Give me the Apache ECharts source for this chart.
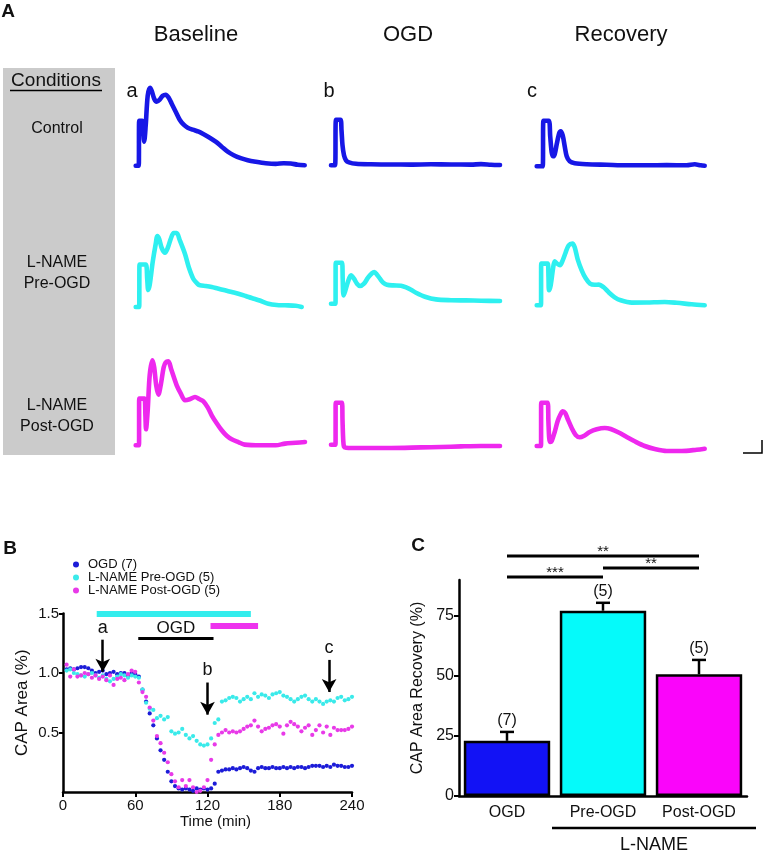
<!DOCTYPE html>
<html>
<head>
<meta charset="utf-8">
<script src="https://cdn.jsdelivr.net/npm/echarts@6.0.0/dist/echarts.min.js"></script>
<style>html,body{margin:0;padding:0;background:#fff;}#main{width:767px;height:853px;}</style>
</head>
<body>
<div id="main"></div>
<script>
// ---------------- Panel A: CAP traces (x: time units, y: amplitude units above baseline) ----------------
const ctrlBase = [[0,0],[3,0],[3.5,45],[6.5,45],[7.5,35],[8.5,24],[10,40],[12,70],[14.3,78],[16,75],[18.5,67],[21,64],[24,66],[27,70],[30,71],[33,68],[36,62],[40,54],[44,46],[48,41],[52,38],[57,36],[63,34],[68,31.5],[74,28],[80,24],[86,19],[92,14],[98,10.5],[105,7.5],[112,5.5],[120,4],[130,2.5],[140,1.8],[148,2.5],[155,2.2],[162,1],[169,0.5]];
const ctrlOgd = [[0,0],[4,0],[5,45.5],[9.5,45.5],[10.5,35],[11.5,20],[13,10],[15,5],[18,3],[25,1.5],[40,1],[60,0.8],[80,0.7],[100,1],[120,0.8],[140,0.7],[150,1.2],[160,0.6],[169,0.3]];
const ctrlRec = [[0,0],[6,0],[6.7,45.5],[12,45.5],[13.5,30],[15,14],[16.5,10],[18,12],[20,22],[22.5,33],[24,35],[26,31],[28,20],[30,10],[33,5],[38,3],[50,2],[70,1.5],[90,1],[110,1],[130,1.2],[150,1],[158,2],[164,1],[168,0.5]];
const preBase = [[0,0],[3.5,0],[3.8,42.5],[10,42.5],[11.5,28],[12.5,17],[14,22],[17,45],[20,63],[21.7,71],[23.5,68],[26,59],[29.3,54.3],[32,59],[35,68],[38,74],[41,74],[44,67],[49.3,53],[53,40],[57.7,28],[62,23],[64.3,21.7],[70,21],[76,20],[82,18.5],[89.3,16.7],[96,15],[102.7,13.3],[110,11],[116,9],[124,6.5],[132.7,3.3],[141,2],[149.3,1.7],[160,1.2],[166,0]];
const preOgd = [[0,0],[4.5,0],[4.7,41],[11,41],[11.7,25],[12.5,8.3],[14,12],[17,22],[20,28.3],[23,25],[26,20],[29,17.7],[33,20],[37,26],[41,30.5],[43.3,31.7],[46,29],[49,25],[52.3,21],[56,19],[62,18.3],[70,18],[75.7,16],[80,14],[85,11],[94,7],[105,4.3],[120,3.5],[135,3.3],[150,3],[169,2.7]];
const preRec = [[0,0],[4.3,0],[4.5,41.7],[11,41.7],[11.8,28],[12.3,15],[14,20],[16.5,38],[18,44],[20,42],[23.3,40],[26,45],[29,53],[32,60],[35.7,61.7],[38,58],[41,46],[45,35],[49,27],[53.3,21.7],[58,20.5],[62,20.7],[67,18],[72,13],[78,8],[84,5],[95,2.7],[110,2.8],[128,3.3],[140,2.5],[155,1],[168,0]];
const postBase = [[0,0],[3.3,0],[3.5,46.7],[8.7,46.7],[9.7,30],[10.3,16],[12,35],[14,70],[16.7,85],[18.5,78],[20.5,60],[22.7,50.7],[25,60],[28,78],[30,83],[32.7,84],[35.5,76],[41,60],[45,52],[49.3,45],[54,46],[59.3,48.3],[64,46],[67.7,44],[72,38],[76,30],[81,22],[86,15],[91,9.5],[96,6],[103,3],[109,0.7],[125,0],[140,0],[149.3,1.7],[160,2.5],[169.3,3.3]];
const postOgd = [[0,0],[4.5,0],[4.7,42],[11,42],[11.5,25],[12.2,5],[13,-2],[15,-3],[30,-3.3],[60,-3.3],[90,-2.7],[110,-2.3],[130,-1.7],[150,-1.3],[169,-1.3]];
const postRec = [[0,0],[4.3,0],[4.5,43.3],[11,43.3],[11.7,25],[12.5,8],[13.5,4],[15,5],[18,14],[21,25],[24,32],[26,34.7],[28.5,33],[31,27],[35,18],[39,11],[43,8.7],[47,10],[53,14],[60,16.7],[68,18],[74,17],[82,13.5],[90,9],[98,4.7],[108,0],[118,-3],[130,-5],[145,-5],[160,-3.7],[168,-2.7]];

const conditionRows = ['Control', 'L-NAME\nPre-OGD', 'L-NAME\nPost-OGD'];
const phaseTitles = ['Baseline', 'OGD', 'Recovery'];
const phaseLetters = ['a', 'b', 'c'];

// ---------------- Panel B: CAP area time course ----------------
const timeMin = [3,6,9,12,15,18,21,24,27,30,33,36,39,42,45,48,51,54,57,60,
  63,66,69,72,75,78,81,84,87,90,93,96,99,102,105,108,111,114,117,120,
  123,126,129,132,135,138,141,144,147,150,153,156,159,162,165,168,171,174,177,180,
  183,186,189,192,195,198,201,204,207,210,213,216,219,222,225,228,231,234,237,240];
const ogdVals = [1.03,1.04,1.03,1.04,1.05,1.05,1.04,1.02,1.00,1.01,1.02,0.99,1.00,1.01,0.99,1.00,1.00,0.98,1.00,0.99,
  0.97,0.86,0.76,0.66,0.56,0.45,0.35,0.27,0.17,0.09,0.05,0.03,0.02,0.03,0.02,0.01,0.03,0.02,0.03,0.02,
  0.03,0.07,0.17,0.18,0.19,0.19,0.20,0.19,0.20,0.21,0.20,0.18,0.17,0.20,0.21,0.20,0.20,0.21,0.20,0.20,
  0.21,0.20,0.21,0.20,0.21,0.21,0.20,0.21,0.22,0.22,0.22,0.21,0.22,0.21,0.23,0.22,0.22,0.21,0.21,0.22];
const preVals = [1.02,1.03,1.00,0.99,0.98,0.97,0.99,1.00,0.98,0.96,0.98,0.95,0.93,0.95,0.97,0.99,0.98,0.96,0.98,0.97,
  0.96,0.86,0.75,0.70,0.69,0.62,0.64,0.61,0.63,0.51,0.49,0.50,0.53,0.48,0.45,0.47,0.43,0.40,0.39,0.40,
  0.45,0.58,0.61,0.76,0.77,0.79,0.80,0.79,0.76,0.78,0.80,0.78,0.83,0.80,0.82,0.81,0.79,0.82,0.83,0.84,
  0.81,0.80,0.78,0.76,0.78,0.80,0.81,0.78,0.76,0.78,0.76,0.74,0.76,0.77,0.76,0.79,0.80,0.77,0.78,0.80];
const postVals = [1.07,0.97,1.03,0.97,0.98,1.00,0.99,0.96,0.98,0.95,0.97,0.94,0.98,0.90,0.95,0.96,0.94,0.99,1.02,1.01,
  0.92,0.84,0.80,0.71,0.60,0.47,0.41,0.33,0.25,0.15,0.09,0.04,0.10,0.05,0.10,0.04,0.00,0.01,0.04,0.10,
  0.27,0.40,0.48,0.50,0.52,0.50,0.51,0.50,0.51,0.53,0.55,0.56,0.60,0.55,0.51,0.53,0.54,0.56,0.57,0.55,
  0.49,0.56,0.59,0.57,0.55,0.51,0.54,0.56,0.48,0.52,0.56,0.50,0.55,0.48,0.54,0.52,0.52,0.52,0.53,0.55];
const seriesNamesB = ['OGD (7)', 'L-NAME Pre-OGD (5)', 'L-NAME Post-OGD (5)'];
const xTicksB = [0, 60, 120, 180, 240];
const yTicksB = [0.5, 1.0, 1.5];
// treatment periods [start, end, level] in min / CAP area units
const preTreat = [28, 156, 1.5];
const postTreat = [122.5, 162, 1.40];
const ogdPeriod = [62.5, 125, 1.29];
// sample arrows: [time, top, tip]
const arrowSpans = [[33, 1.28, 1.01], [120, 0.92, 0.65], [221, 1.11, 0.84]];

// ---------------- Panel C: recovery bars ----------------
const barCats = ['OGD', 'Pre-OGD', 'Post-OGD'];
const barMeans = [23.0, 77.2, 50.7];
const barSem = [3.7, 3.3, 6.0];
const barN = ['(7)', '(5)', '(5)'];
const yTicksC = [0, 25, 50, 75];
// significance brackets: [fromIndex, toIndex, height]
const sigRows = [[0, 2, 100], [1, 2, 95], [0, 1, 91.3]];
const sigText = ['**', '**', '***'];

// ---------------- styling / layout ----------------
const FONT = "'Liberation Sans', Arial, Helvetica, sans-serif";
const INK = '#111';
const traceColors = ['#1717e6', '#2ef0f0', '#ee28ee'];
const dotColors = ['#1c1cd8', '#3aeaea', '#e83ae8'];
const barColors = ['#1212f5', '#05fafa', '#fa05fa'];
const colLeft = [135.7, 331, 536.7];
const rowBase = [[165.7, 165.3, 166.3], [307, 303.7, 305.3], [445.3, 444.7, 446]];
const traces = [[ctrlBase, ctrlOgd, ctrlRec], [preBase, preOgd, preRec], [postBase, postOgd, postRec]];

const grids = [], xAxes = [], yAxes = [], series = [];
traces.forEach((row, r) => row.forEach((tr, c) => {
  const idx = grids.length;
  grids.push({left: colLeft[c], top: rowBase[r][c] - 90, width: 170, height: 100});
  xAxes.push({gridIndex: idx, type: 'value', min: 0, max: 170, show: false});
  yAxes.push({gridIndex: idx, type: 'value', min: -10, max: 90, show: false});
  series.push({type: 'line', name: 'trace' + idx, xAxisIndex: idx, yAxisIndex: idx, data: tr,
    showSymbol: false, symbol: 'none', smooth: 0.3, clip: false, silent: true,
    lineStyle: {color: traceColors[r], width: 4.6, cap: 'round', join: 'round'}});
}));

// Panel B grid
const gB = grids.length;
grids.push({left: 63, top: 613.5, width: 289, height: 178.5});
xAxes.push({gridIndex: gB, type: 'value', min: 0, max: 240, interval: 60,
  axisLine: {lineStyle: {color: '#000', width: 2.5}},
  axisTick: {length: 5, lineStyle: {color: '#000', width: 2}},
  axisLabel: {fontSize: 15, color: INK, fontFamily: FONT, margin: 6, customValues: xTicksB},
  splitLine: {show: false},
  name: 'Time (min)', nameLocation: 'middle', nameGap: 21,
  nameTextStyle: {fontSize: 15, color: INK, fontFamily: FONT, padding: [0, 0, 0, 16]}});
yAxes.push({gridIndex: gB, type: 'value', min: 0, max: 1.5, interval: 0.5,
  axisLine: {show: true, lineStyle: {color: '#000', width: 2.5}},
  axisTick: {show: true, length: 4, lineStyle: {color: '#000', width: 2}, customValues: yTicksB},
  axisLabel: {fontSize: 15, color: INK, fontFamily: FONT, margin: 4, customValues: yTicksB,
    formatter: v => v.toFixed(1)},
  splitLine: {show: false},
  name: 'CAP Area (%)', nameLocation: 'middle', nameGap: 32,
  nameTextStyle: {fontSize: 17, color: INK, fontFamily: FONT}});

const valsB = [ogdVals, preVals, postVals];
valsB.forEach((vals, i) => {
  series.push({type: 'scatter', name: seriesNamesB[i], xAxisIndex: gB, yAxisIndex: gB,
    data: timeMin.map((t, k) => [t, vals[k]]), symbolSize: 4.2, silent: true,
    itemStyle: {color: dotColors[i], opacity: 1}});
});

const arrowItems = arrowSpans.map((a, i) => [
  {coord: [a[0], a[1]], symbol: 'none', lineStyle: {color: '#000', width: 2.5, type: 'solid'},
    label: {show: true, position: 'start', formatter: phaseLetters[i], fontSize: 18, color: INK, fontFamily: FONT, distance: 3}},
  {coord: [a[0], a[2]], symbol: 'arrow', symbolSize: [11, 13]}
]);
series[series.length - 3].markLine = {
  silent: true, animation: false, symbol: ['none', 'none'],
  label: {show: false},
  data: [
    [{coord: [preTreat[0], preTreat[2]], lineStyle: {color: '#33eded', width: 6, type: 'solid', cap: 'butt'}},
     {coord: [preTreat[1], preTreat[2]]}],
    [{coord: [postTreat[0], postTreat[2]], lineStyle: {color: '#ee33ee', width: 6, type: 'solid', cap: 'butt'}},
     {coord: [postTreat[1], postTreat[2]]}],
    [{coord: [ogdPeriod[0], ogdPeriod[2]], lineStyle: {color: '#000', width: 3, type: 'solid'},
      label: {show: true, position: 'insideMiddleTop', formatter: 'OGD', fontSize: 17, color: INK, fontFamily: FONT, distance: 2}},
     {coord: [ogdPeriod[1], ogdPeriod[2]]}]
  ].concat(arrowItems)
};

// Panel C grid
const gC = grids.length;
grids.push({left: 459, top: 580, width: 288, height: 216});
xAxes.push({gridIndex: gC, type: 'category', data: barCats,
  axisLine: {lineStyle: {color: '#000', width: 2.5}},
  axisTick: {alignWithLabel: true, length: 5, lineStyle: {color: '#000', width: 2.5}},
  axisLabel: {fontSize: 16, color: INK, fontFamily: FONT, margin: 9}});
yAxes.push({gridIndex: gC, type: 'value', min: 0, max: 90, interval: 25,
  axisLine: {show: true, lineStyle: {color: '#000', width: 2.5}},
  axisTick: {show: true, length: 5, lineStyle: {color: '#000', width: 2}, customValues: yTicksC},
  axisLabel: {fontSize: 16, color: INK, fontFamily: FONT, margin: 5, customValues: yTicksC},
  splitLine: {show: false},
  name: 'CAP Area Recovery (%)', nameLocation: 'middle', nameGap: 33,
  nameTextStyle: {fontSize: 16, color: INK, fontFamily: FONT}});

series.push({type: 'bar', name: 'recovery', xAxisIndex: gC, yAxisIndex: gC, barWidth: '90%', silent: true,
  data: barMeans.map((m, i) => ({value: m, itemStyle: {color: barColors[i]}})),
  itemStyle: {borderColor: '#000', borderWidth: 2.5}});
series.push({type: 'custom', name: 'sem', xAxisIndex: gC, yAxisIndex: gC, silent: true, z: 5,
  encode: {x: 0, y: [1, 2]},
  data: barMeans.map((m, i) => [i, m, m + barSem[i]]),
  renderItem: (params, api) => {
    const i = api.value(0);
    const b = api.coord([i, api.value(1)]);
    const t = api.coord([i, api.value(2)]);
    return {type: 'group', children: [
      {type: 'line', shape: {x1: b[0], y1: b[1], x2: t[0], y2: t[1]}, style: {stroke: '#000', lineWidth: 2.5}},
      {type: 'line', shape: {x1: t[0] - 7, y1: t[1], x2: t[0] + 7, y2: t[1]}, style: {stroke: '#000', lineWidth: 2.5}},
      {type: 'text', x: t[0], y: t[1] - 3, style: {text: barN[params.dataIndex], fontSize: 16, fontFamily: FONT,
        fill: INK, align: 'center', verticalAlign: 'bottom'}}
    ]};
  }});
series.push({type: 'custom', name: 'sig', xAxisIndex: gC, yAxisIndex: gC, silent: true, z: 5,
  encode: {x: [0, 1], y: 2},
  data: sigRows,
  renderItem: (params, api) => {
    const a = api.coord([api.value(0), api.value(2)]);
    const b = api.coord([api.value(1), api.value(2)]);
    return {type: 'group', children: [
      {type: 'line', shape: {x1: a[0], y1: a[1], x2: b[0], y2: b[1]}, style: {stroke: '#000', lineWidth: 3}},
      {type: 'text', x: (a[0] + b[0]) / 2, y: a[1] + 3, style: {text: sigText[params.dataIndex], fontSize: 15,
        fontFamily: FONT, fill: INK, align: 'center', verticalAlign: 'bottom'}}
    ]};
  }});

// ---------------- annotations ----------------
function txt(text, x, y, size, extra) {
  return Object.assign({type: 'text', x: x, y: y, silent: true,
    style: Object.assign({text: text, fontSize: size, fontFamily: FONT, fill: INK,
      align: 'center', verticalAlign: 'middle'}, extra || {})});
}
const graphics = [
  {type: 'rect', shape: {x: 3, y: 68, width: 112, height: 387}, style: {fill: '#cbcbcb'}, z: -10, silent: true},
  txt('A', 8, 12, 19, {fontWeight: 'bold'}),
  txt('B', 10, 549, 19, {fontWeight: 'bold'}),
  txt('C', 418, 546, 19, {fontWeight: 'bold'}),
  txt(phaseTitles[0], 196, 35, 22),
  txt(phaseTitles[1], 408, 35, 22),
  txt(phaseTitles[2], 621, 35, 22),
  txt('Conditions', 56, 81, 19),
  {type: 'line', shape: {x1: 10, y1: 90.5, x2: 102, y2: 90.5}, style: {stroke: '#000', lineWidth: 1.6}, silent: true},
  txt(conditionRows[0], 57, 128.5, 16),
  txt(conditionRows[1], 57, 273, 16, {lineHeight: 21}),
  txt(conditionRows[2], 57, 416, 16, {lineHeight: 21}),
  txt(phaseLetters[0], 132, 91.5, 20),
  txt(phaseLetters[1], 329, 91.5, 20),
  txt(phaseLetters[2], 532, 91.5, 20),
  {type: 'polyline', shape: {points: [[743, 453], [762, 453], [762, 440]]}, style: {stroke: '#000', lineWidth: 1.5, fill: null}, silent: true},
  {type: 'line', shape: {x1: 552, y1: 828, x2: 756, y2: 828}, style: {stroke: '#000', lineWidth: 2.5}, silent: true},
  txt('L-NAME', 654, 845, 18)
];

const chart = echarts.init(document.getElementById('main'), null, {renderer: 'canvas'});
chart.setOption({
  animation: false,
  backgroundColor: '#fff',
  textStyle: {fontFamily: FONT},
  grid: grids, xAxis: xAxes, yAxis: yAxes, series: series,
  legend: {left: 68, top: 553, orient: 'vertical', itemWidth: 6, itemHeight: 6, itemGap: 0,
    selectedMode: false, icon: 'circle', data: seriesNamesB,
    textStyle: {fontSize: 13, lineHeight: 12, color: INK, fontFamily: FONT, padding: [0, 0, 0, 4]}},
  graphic: graphics
});
</script>
</body>
</html>
